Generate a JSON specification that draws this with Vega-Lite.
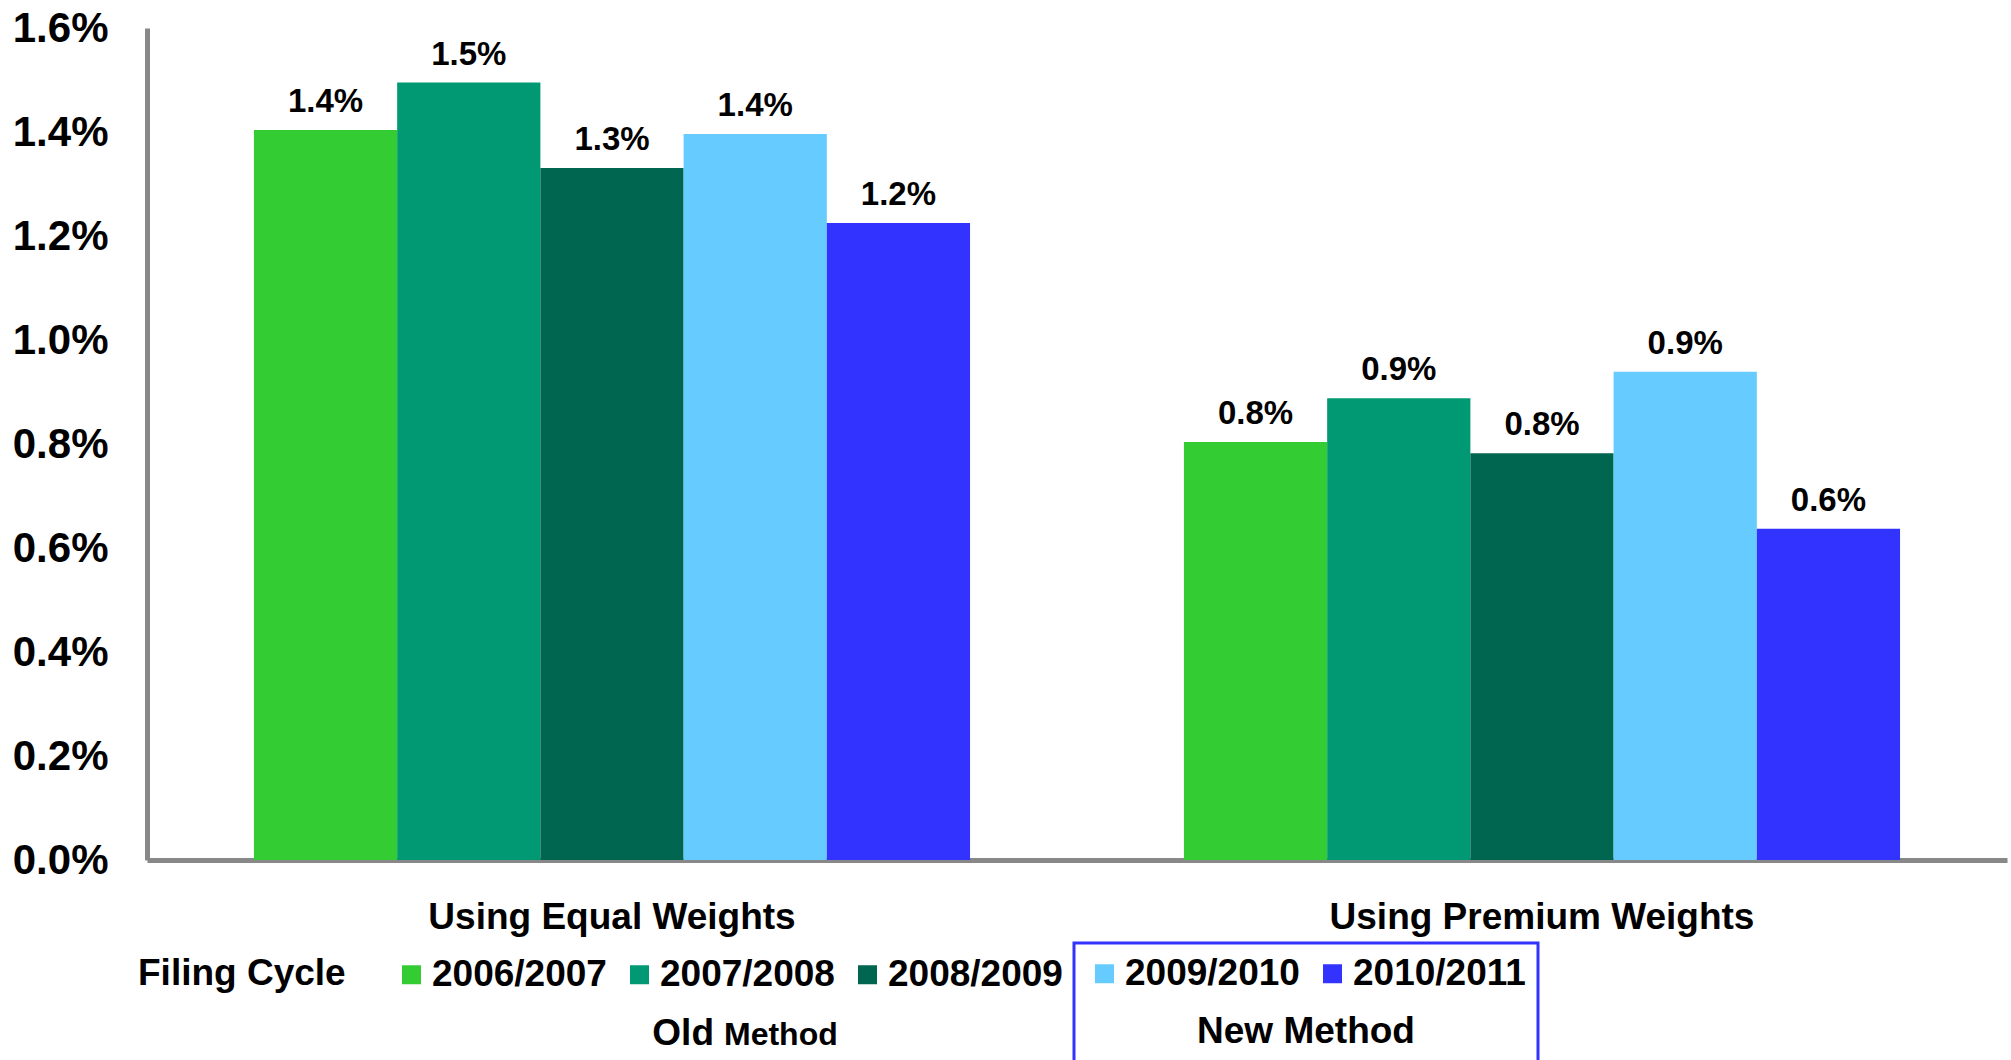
{
  "$schema": "https://vega.github.io/schema/vega-lite/v6.json",
  "width": 1860,
  "height": 832,
  "autosize": {"type": "none"},
  "padding": {"left": 147, "top": 28, "right": 4, "bottom": 200},
  "background": "white",
  "config": {
    "view": {"stroke": null},
    "font": "Liberation Sans",
    "axis": {
      "title": null,
      "grid": false,
      "ticks": false,
      "tickSize": 0,
      "labelFont": "Liberation Sans",
      "labelFontWeight": "bold",
      "labelColor": "black",
      "domainColor": "#888888",
      "domainWidth": 5
    },
    "axisX": {"labelAngle": 0, "labelPadding": 68, "labelBaseline": "alphabetic", "labelFontSize": 37, "labelLimit": 600},
    "axisY": {"labelPadding": 39, "labelFontSize": 42}
  },
  "datasets": {
    "rates": [
      {"weighting": "Using Equal Weights", "cycle": "2006/2007", "rate": 0.01404},
      {"weighting": "Using Equal Weights", "cycle": "2007/2008", "rate": 0.01495},
      {"weighting": "Using Equal Weights", "cycle": "2008/2009", "rate": 0.01331},
      {"weighting": "Using Equal Weights", "cycle": "2009/2010", "rate": 0.01396},
      {"weighting": "Using Equal Weights", "cycle": "2010/2011", "rate": 0.01225},
      {"weighting": "Using Premium Weights", "cycle": "2006/2007", "rate": 0.00804},
      {"weighting": "Using Premium Weights", "cycle": "2007/2008", "rate": 0.00888},
      {"weighting": "Using Premium Weights", "cycle": "2008/2009", "rate": 0.00782},
      {"weighting": "Using Premium Weights", "cycle": "2009/2010", "rate": 0.00939},
      {"weighting": "Using Premium Weights", "cycle": "2010/2011", "rate": 0.00637}
    ]
  },
  "layer": [
    {
      "data": {"name": "rates"},
      "transform": [{"filter": {"field": "cycle", "oneOf": ["2006/2007", "2007/2008", "2008/2009"]}}],
      "mark": {"type": "bar"},
      "encoding": {
        "x": {
          "field": "weighting",
          "type": "nominal",
          "sort": ["Using Equal Weights", "Using Premium Weights"],
          "scale": {"paddingInner": 0.23, "paddingOuter": 0.115}
        },
        "xOffset": {
          "field": "cycle",
          "type": "nominal",
          "scale": {
            "domain": ["2006/2007", "2007/2008", "2008/2009", "2009/2010", "2010/2011"],
            "paddingInner": 0,
            "paddingOuter": 0
          }
        },
        "y": {
          "field": "rate",
          "type": "quantitative",
          "scale": {"domain": [0, 0.016], "nice": false},
          "axis": {"format": ".1%", "values": [0, 0.002, 0.004, 0.006, 0.008, 0.01, 0.012, 0.014, 0.016]}
        },
        "color": {
          "field": "cycle",
          "type": "nominal",
          "scale": {"domain": ["2006/2007", "2007/2008", "2008/2009"], "range": ["#33CC33", "#009973", "#00664F"]},
          "legend": {
            "title": "Filing Cycle",
            "orient": "none",
            "legendX": -9,
            "legendY": 928,
            "direction": "horizontal",
            "titleOrient": "left",
            "titlePadding": 47,
            "titleFontSize": 37,
            "titleFont": "Liberation Sans",
            "titleFontWeight": "bold",
            "titleColor": "black",
            "titleLimit": 500,
            "symbolType": "square",
            "symbolSize": 361,
            "symbolStrokeWidth": 0,
            "symbolOpacity": 1,
            "labelFontSize": 37,
            "labelFont": "Liberation Sans",
            "labelFontWeight": "bold",
            "labelColor": "black",
            "labelOffset": 2,
            "labelLimit": 400,
            "columnPadding": 14
          }
        }
      }
    },
    {
      "data": {"name": "rates"},
      "transform": [{"filter": {"field": "cycle", "oneOf": ["2009/2010", "2010/2011"]}}],
      "mark": {"type": "bar"},
      "encoding": {
        "x": {"field": "weighting", "type": "nominal", "sort": ["Using Equal Weights", "Using Premium Weights"]},
        "xOffset": {"field": "cycle", "type": "nominal"},
        "y": {"field": "rate", "type": "quantitative"},
        "fill": {
          "field": "cycle",
          "type": "nominal",
          "scale": {"domain": ["2009/2010", "2010/2011"], "range": ["#66CCFF", "#3333FF"]},
          "legend": {
            "title": "New Method",
            "orient": "none",
            "legendX": 927,
            "legendY": 915,
            "direction": "horizontal",
            "titleOrient": "bottom",
            "titleAnchor": "middle",
            "titlePadding": 22,
            "titleFontSize": 37,
            "titleFont": "Liberation Sans",
            "titleFontWeight": "bold",
            "titleColor": "black",
            "titleLimit": 500,
            "padding": 12,
            "strokeColor": "#3333FF",
            "encode": {"legend": {"update": {"strokeWidth": {"value": 3}}}},
            "symbolType": "square",
            "symbolSize": 361,
            "symbolStrokeWidth": 0,
            "symbolOpacity": 1,
            "labelFontSize": 37,
            "labelFont": "Liberation Sans",
            "labelFontWeight": "bold",
            "labelColor": "black",
            "labelOffset": 2,
            "labelLimit": 400,
            "columnPadding": 14
          }
        }
      }
    },
    {
      "data": {"name": "rates"},
      "mark": {"type": "text", "baseline": "alphabetic", "dy": -18, "fontSize": 33, "font": "Liberation Sans", "fontWeight": "bold", "color": "black"},
      "encoding": {
        "x": {"field": "weighting", "type": "nominal", "sort": ["Using Equal Weights", "Using Premium Weights"]},
        "xOffset": {"field": "cycle", "type": "nominal"},
        "y": {"field": "rate", "type": "quantitative"},
        "text": {"field": "rate", "type": "quantitative", "format": ".1%"}
      }
    },
    {
      "data": {"values": [{"caption": "Old"}]},
      "mark": {"type": "text", "align": "right", "baseline": "alphabetic", "dx": 102, "fontSize": 37, "font": "Liberation Sans", "fontWeight": "bold", "color": "black"},
      "encoding": {
        "x": {"datum": "Using Equal Weights"},
        "y": {"datum": -0.003558},
        "text": {"field": "caption", "type": "nominal"}
      }
    },
    {
      "data": {"values": [{"caption": "Method"}]},
      "mark": {"type": "text", "align": "left", "baseline": "alphabetic", "dx": 112, "fontSize": 32, "font": "Liberation Sans", "fontWeight": "bold", "color": "black"},
      "encoding": {
        "x": {"datum": "Using Equal Weights"},
        "y": {"datum": -0.003558},
        "text": {"field": "caption", "type": "nominal"}
      }
    }
  ]
}
